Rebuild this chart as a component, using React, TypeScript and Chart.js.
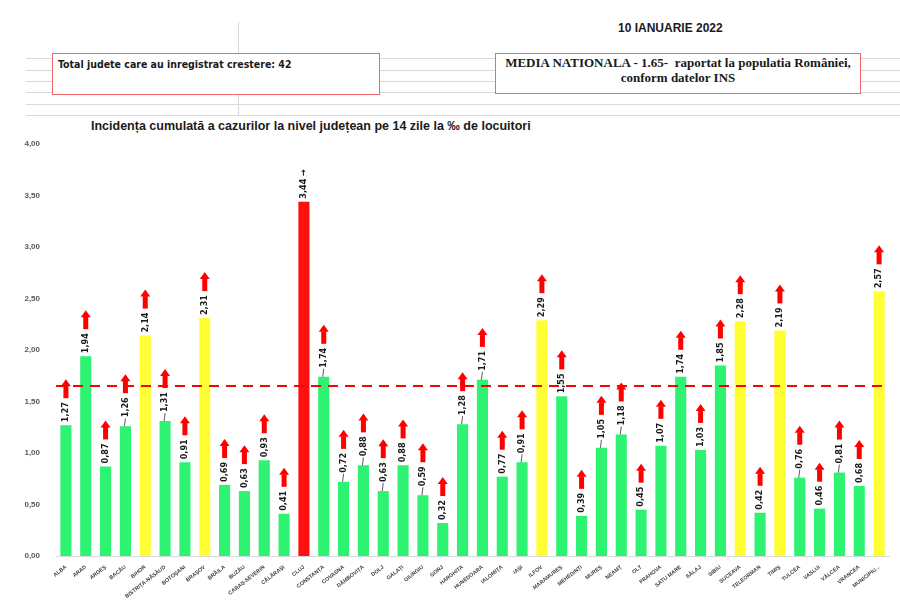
import React, { useEffect, useRef } from "react";
import { Chart, registerables } from "chart.js";

Chart.register(...registerables);

const categories = [
  "ALBA", "ARAD", "ARGEȘ", "BACĂU", "BIHOR", "BISTRIȚA-NĂSĂUD", "BOTOȘANI", "BRAȘOV",
  "BRĂILA", "BUZĂU", "CARAȘ-SEVERIN", "CĂLĂRAȘI", "CLUJ", "CONSTANȚA", "COVASNA",
  "DÂMBOVIȚA", "DOLJ", "GALAȚI", "GIURGIU", "GORJ", "HARGHITA", "HUNEDOARA",
  "IALOMIȚA", "IAȘI", "ILFOV", "MARAMUREȘ", "MEHEDINȚI", "MUREȘ", "NEAMȚ", "OLT",
  "PRAHOVA", "SATU MARE", "SĂLAJ", "SIBIU", "SUCEAVA", "TELEORMAN", "TIMIȘ",
  "TULCEA", "VASLUI", "VÂLCEA", "VRANCEA", "MUNICIPIU...",
];

const values = [
  1.27, 1.94, 0.87, 1.26, 2.14, 1.31, 0.91, 2.31,
  0.69, 0.63, 0.93, 0.41, 3.44, 1.74, 0.72,
  0.88, 0.63, 0.88, 0.59, 0.32, 1.28, 1.71,
  0.77, 0.91, 2.29, 1.55, 0.39, 1.05, 1.18, 0.45,
  1.07, 1.74, 1.03, 1.85, 2.28, 0.42, 2.19,
  0.76, 0.46, 0.81, 0.68, 2.57,
];

const yellowCounties = ["BIHOR", "BRAȘOV", "ILFOV", "SUCEAVA", "TIMIȘ", "MUNICIPIU..."];
const redCounties = ["CLUJ"];
const leaderLabels = [
  "BACĂU", "BISTRIȚA-NĂSĂUD", "CONSTANȚA", "COVASNA", "DÂMBOVIȚA", "DOLJ", "GIURGIU",
  "HARGHITA", "HUNEDOARA", "IAȘI", "MUREȘ", "NEAMȚ", "TULCEA", "VÂLCEA",
];
const nationalAverage = 1.65;
const yTicks = [0, 0.5, 1, 1.5, 2, 2.5, 3, 3.5, 4];

const GREEN = "#2ef271";
const YELLOW = "#ffff33";
const RED = "#ff1010";

const fmt = (v: number) => v.toFixed(2).replace(".", ",");

const overlayPlugin = {
  id: "overlay",
  afterDatasetsDraw(chart: any) {
    const ctx = chart.ctx;
    const area = chart.chartArea;
    const yScale = chart.scales.y;
    const yAvg = yScale.getPixelForValue(nationalAverage);
    ctx.save();
    ctx.strokeStyle = "#ff0000";
    ctx.lineWidth = 2;
    ctx.setLineDash([10, 7]);
    ctx.beginPath();
    ctx.moveTo(area.left, yAvg);
    ctx.lineTo(area.right, yAvg);
    ctx.stroke();
    ctx.setLineDash([]);

    const meta = chart.getDatasetMeta(0);
    meta.data.forEach((bar: any, i: number) => {
      const x = bar.x;
      const top = bar.y;
      const name = categories[i];
      const isRed = redCounties.includes(name);
      const hasLeader = leaderLabels.includes(name);
      const text = isRed ? fmt(values[i]) + " →" : fmt(values[i]);
      const offset = hasLeader ? 9 : 3;
      ctx.font = 'bold 9px "DejaVu Sans Condensed", "Liberation Sans", sans-serif';
      const w = ctx.measureText(text).width;
      if (hasLeader) {
        ctx.strokeStyle = "#333";
        ctx.lineWidth = 0.8;
        ctx.beginPath();
        ctx.moveTo(x - 1, top);
        ctx.lineTo(x, top - offset + 1);
        ctx.stroke();
      }
      ctx.save();
      ctx.translate(x, top - offset);
      ctx.rotate(-Math.PI / 2);
      ctx.fillStyle = "#1a1a1a";
      ctx.textAlign = "left";
      ctx.textBaseline = "middle";
      ctx.fillText(text, 0, 0);
      ctx.restore();

      if (!isRed) {
        const base = top - offset - w - 4;
        const tip = base - 19;
        const headH = 7;
        ctx.fillStyle = "#ff0000";
        ctx.fillRect(x - 2.5, tip + headH - 0.5, 5, base - tip - headH + 0.5);
        ctx.beginPath();
        ctx.moveTo(x, tip);
        ctx.lineTo(x + 5, tip + headH);
        ctx.lineTo(x - 5, tip + headH);
        ctx.closePath();
        ctx.fill();
      }
    });
    ctx.restore();
  },
};

export default function App() {
  const ref = useRef<HTMLCanvasElement | null>(null);

  useEffect(() => {
    if (!ref.current) return;
    const colors = categories.map((c) =>
      redCounties.includes(c) ? RED : yellowCounties.includes(c) ? YELLOW : GREEN
    );
    const chart = new Chart(ref.current, {
      type: "bar",
      data: {
        labels: categories,
        datasets: [
          {
            data: values,
            backgroundColor: colors,
            borderWidth: 0,
            barPercentage: 0.56,
            categoryPercentage: 1,
          },
        ],
      },
      options: {
        responsive: false,
        animation: false,
        layout: { padding: { top: 144, right: 11, left: 0, bottom: 0 } },
        plugins: { legend: { display: false }, tooltip: { enabled: false } },
        scales: {
          x: {
            grid: { display: false },
            border: { display: true, color: "#d9d9d9", width: 1 },
            afterFit: (s: any) => {
              s.height = 47;
            },
            ticks: {
              autoSkip: false,
              maxRotation: 38,
              minRotation: 38,
              padding: 0,
              color: "#404040",
              font: { size: 5.4, weight: "bold", family: '"Liberation Sans", sans-serif' },
            },
          },
          y: {
            min: 0,
            max: 4,
            grid: { display: false },
            border: { display: false },
            afterFit: (s: any) => {
              s.width = 56;
            },
            afterBuildTicks: (s: any) => {
              s.ticks = yTicks.map((v) => ({ value: v }));
            },
            ticks: {
              padding: 8,
              color: "#595959",
              callback: (v: any) => fmt(Number(v)),
              font: { size: 8, weight: "bold", family: '"Liberation Sans", sans-serif' },
            },
          },
        },
      },
      plugins: [overlayPlugin],
    });
    return () => chart.destroy();
  }, []);

  const hLines = [58, 70, 81, 92, 104, 115];

  return (
    <div style={{ position: "fixed", left: 0, top: 0, width: 900, height: 603, background: "#fff", overflow: "hidden" }}>
      {hLines.map((y) => (
        <div key={y} style={{ position: "absolute", left: 26, top: y, width: 874, height: 1, background: "#d9d9d9" }} />
      ))}
      <div style={{ position: "absolute", left: 238, top: 22, width: 1, height: 93, background: "#d9d9d9" }} />
      <div
        style={{
          position: "absolute", left: 618, top: 21, fontFamily: '"Liberation Sans", sans-serif',
          fontWeight: "bold", fontSize: 12, color: "#1a1a1a", whiteSpace: "nowrap",
        }}
      >
        10 IANUARIE 2022
      </div>
      <div
        style={{
          position: "absolute", left: 52, top: 53, width: 328, height: 42, border: "1.5px solid #f06868",
          background: "#fff", boxSizing: "border-box",
        }}
      >
        <div
          style={{
            position: "absolute", left: 5, top: 4, fontFamily: '"DejaVu Sans Condensed", "Liberation Sans", sans-serif',
            fontWeight: "bold", fontSize: 10.5, color: "#1a1a1a", whiteSpace: "nowrap",
          }}
        >
          Total judete care au inregistrat crestere: 42
        </div>
      </div>
      <div
        style={{
          position: "absolute", left: 495, top: 53, width: 366, height: 41, border: "1.5px solid #f06868",
          background: "#fff", boxSizing: "border-box", textAlign: "center",
          fontFamily: '"Liberation Serif", serif', fontWeight: "bold", fontSize: 13, color: "#1a1a1a",
          lineHeight: "15px", paddingTop: 1, whiteSpace: "pre",
        }}
      >
        {"MEDIA NATIONALA - 1.65-  raportat la populatia României,\nconform datelor INS"}
      </div>
      <div
        style={{
          position: "absolute", left: 91, top: 119, fontFamily: '"Liberation Sans", sans-serif',
          fontWeight: "bold", fontSize: 12.5, color: "#1a1a1a", whiteSpace: "nowrap",
        }}
      >
        Incidența cumulată a cazurilor la nivel județean pe 14 zile la ‰ de locuitori
      </div>
      <canvas ref={ref} width={900} height={603} style={{ position: "absolute", left: 0, top: 0, display: "block" }} />
    </div>
  );
}
